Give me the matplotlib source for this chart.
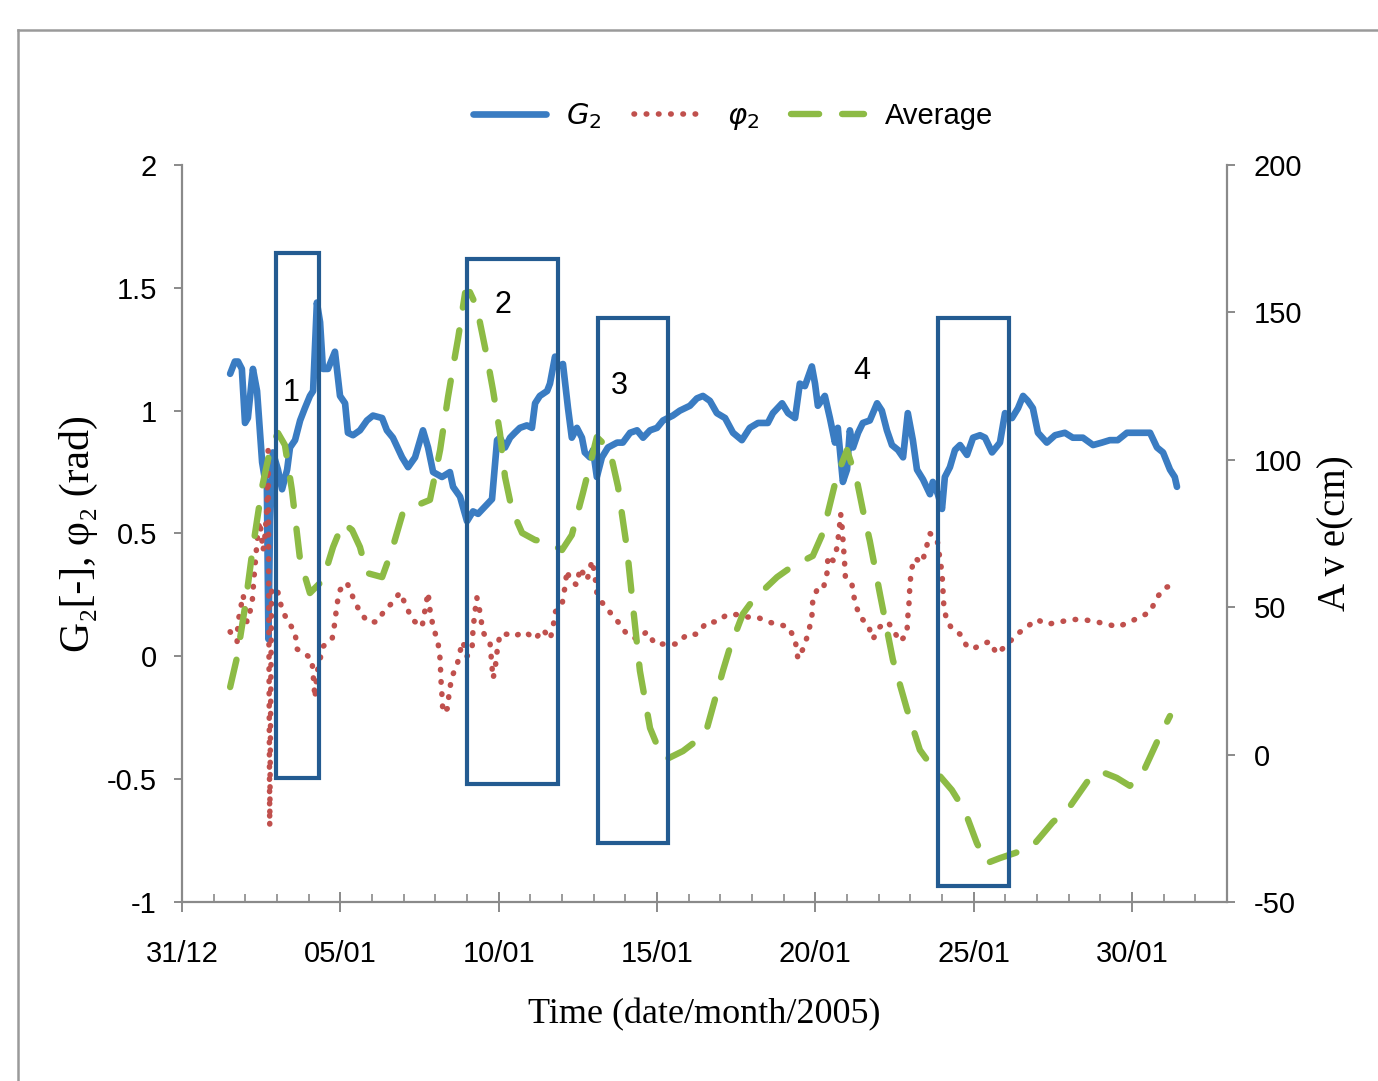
import numpy as np
import matplotlib
matplotlib.use("Agg")
import matplotlib.pyplot as plt
from matplotlib.patches import Rectangle
from matplotlib.lines import Line2D

# -------------------------------------------------
# Data (x = days after 31/12/2004)
# -------------------------------------------------

g2_day = [1.52, 1.67, 1.77, 1.89, 1.99, 2.08, 2.24, 2.37, 2.53, 2.62, 2.68, 2.73, 2.78, 2.87,
          3.03, 3.16, 3.32, 3.41, 3.57, 3.73, 3.88, 4.04, 4.14, 4.26, 4.36, 4.45, 4.61, 4.83,
          4.99, 5.15, 5.24, 5.40, 5.62, 5.84, 6.03, 6.32, 6.47, 6.66, 6.95, 7.14, 7.36, 7.61,
          7.77, 7.93, 8.21, 8.46, 8.56, 8.78, 9.00, 9.19, 9.35, 9.57, 9.79, 9.95, 10.04, 10.20,
          10.36, 10.51, 10.67, 10.89, 11.05, 11.15, 11.30, 11.53, 11.62, 11.78, 11.87, 12.03,
          12.19, 12.31, 12.47, 12.63, 12.72, 12.88, 12.98, 13.10, 13.26, 13.45, 13.74, 13.92,
          14.15, 14.37, 14.56, 14.78, 15.00, 15.19, 15.50, 15.72, 16.04, 16.26, 16.45, 16.67,
          16.89, 17.15, 17.40, 17.68, 17.93, 18.19, 18.50, 18.66, 18.95, 19.14, 19.36, 19.51,
          19.67, 19.89, 19.99, 20.08, 20.30, 20.46, 20.62, 20.71, 20.87, 21.00, 21.09, 21.19,
          21.35, 21.50, 21.72, 21.95, 22.10, 22.26, 22.42, 22.61, 22.77, 22.92, 23.08, 23.21,
          23.40, 23.62, 23.71, 23.87, 24.00, 24.09, 24.25, 24.41, 24.57, 24.79, 24.98, 25.20,
          25.36, 25.58, 25.83, 25.99, 26.21, 26.40, 26.56, 26.71, 26.87, 27.03, 27.31, 27.57,
          27.88, 28.13, 28.45, 28.77, 29.05, 29.30, 29.55, 29.84, 30.15, 30.34, 30.57, 30.79,
          30.98, 31.20, 31.35, 31.42]
g2_val = [1.15, 1.20, 1.20, 1.17, 0.95, 0.97, 1.17, 1.08, 0.79, 0.72, 0.70, 0.07, 0.55, 0.83,
          0.76, 0.68, 0.76, 0.85, 0.88, 0.96, 1.01, 1.06, 1.08, 1.44, 1.36, 1.17, 1.17, 1.24,
          1.06, 1.03, 0.91, 0.90, 0.92, 0.96, 0.98, 0.97, 0.92, 0.89, 0.81, 0.77, 0.81, 0.92,
          0.85, 0.75, 0.73, 0.75, 0.69, 0.65, 0.55, 0.59, 0.58, 0.61, 0.64, 0.88, 0.89, 0.85,
          0.89, 0.91, 0.93, 0.94, 0.93, 1.03, 1.06, 1.08, 1.11, 1.22, 1.18, 1.19,
          1.01, 0.89, 0.93, 0.89, 0.83, 0.81, 0.84, 0.73, 0.81, 0.85, 0.87, 0.87,
          0.91, 0.92, 0.89, 0.92, 0.93, 0.96, 0.98, 1.00, 1.02, 1.05, 1.06, 1.04,
          0.99, 0.97, 0.91, 0.88, 0.93, 0.95, 0.95, 0.99, 1.03, 0.99, 0.97, 1.11,
          1.10, 1.18, 1.11, 1.02, 1.06, 0.97, 0.87, 0.93, 0.71, 0.76, 0.92, 0.85,
          0.91, 0.95, 0.96, 1.03, 1.00, 0.92, 0.86, 0.84, 0.81, 0.99, 0.88, 0.76,
          0.72, 0.66, 0.71, 0.66, 0.60, 0.73, 0.77, 0.84, 0.86, 0.82, 0.89, 0.90,
          0.89, 0.83, 0.87, 0.99, 0.97, 1.01, 1.06, 1.04, 1.01, 0.91, 0.87, 0.90,
          0.91, 0.89, 0.89, 0.86, 0.87, 0.88, 0.88, 0.91, 0.91, 0.91, 0.91, 0.85,
          0.83, 0.76, 0.73, 0.69]

phi_day = [1.52, 1.74, 1.77, 1.93, 2.05, 2.21, 2.28, 2.40, 2.46, 2.56, 2.62, 2.68, 2.72, 2.77,
           2.83, 3.03, 3.16, 3.35, 3.57, 3.63, 3.88, 4.10, 4.20, 4.26, 4.45, 4.74, 4.83, 4.89,
           4.99, 5.21, 5.40, 5.62, 5.87, 6.16, 6.41, 6.66, 6.88, 7.10, 7.26, 7.58, 7.77, 7.83,
           7.93, 8.08, 8.15, 8.18, 8.21, 8.24, 8.40, 8.43, 8.53, 8.68, 8.78, 8.87, 9.00, 9.16,
           9.19, 9.25, 9.31, 9.41, 9.50, 9.73, 9.82, 9.88, 9.95, 10.04, 10.26, 10.45, 10.83,
           11.15, 11.40, 11.62, 11.71, 11.78, 12.00, 12.09, 12.16, 12.25, 12.47, 12.57, 12.79,
           12.95, 13.04, 13.10, 13.26, 13.51, 13.77, 14.05, 14.37, 14.68, 14.94, 15.25, 15.63,
           15.95, 16.26, 16.58, 16.89, 17.21, 17.52, 17.84, 18.16, 18.50, 18.85, 19.14, 19.36,
           19.45, 19.61, 19.77, 19.89, 19.92, 20.05, 20.24, 20.37, 20.40, 20.56, 20.68, 20.75,
           20.80, 20.85, 20.88, 20.92, 20.95, 21.16, 21.25, 21.41, 21.66, 21.82, 22.04, 22.29,
           22.45, 22.67, 22.89, 22.92, 22.96, 22.99, 23.05, 23.14, 23.37, 23.52, 23.62, 23.84,
           24.00, 24.03, 24.06, 24.16, 24.34, 24.57, 24.79, 24.98, 25.26, 25.51, 25.73, 25.99,
           26.37, 26.68, 27.00, 27.31, 27.72, 28.10, 28.45, 28.89, 29.24, 29.55, 29.93, 30.25,
           30.57, 30.79, 31.04, 31.35]
phi_val = [0.10, 0.06, 0.14, 0.25, 0.14, 0.21, 0.33, 0.51, 0.55, 0.43, 0.49, 0.60, 0.84, -0.69,
           0.28, 0.26, 0.19, 0.14, 0.10, 0.03, 0.01, -0.01, -0.17, -0.07, 0.04, 0.07, 0.14, 0.21,
           0.27, 0.30, 0.24, 0.18, 0.14, 0.14, 0.19, 0.22, 0.26, 0.20, 0.15, 0.12, 0.26, 0.19,
           0.12, 0.06, -0.01, -0.10, -0.16, -0.23, -0.21, -0.15, -0.08, -0.04, 0.02, 0.06, 0.00, 0.03,
           0.11, 0.18, 0.24, 0.18, 0.10, 0.05, -0.09, -0.06, 0.02, 0.09, 0.09, 0.08, 0.10,
           0.07, 0.11, 0.07, 0.11, 0.18, 0.21, 0.28, 0.35, 0.31, 0.29, 0.36, 0.31,
           0.39, 0.33, 0.26, 0.22, 0.18, 0.14, 0.09, 0.07, 0.10, 0.05, 0.05, 0.05,
           0.09, 0.09, 0.14, 0.14, 0.17, 0.17, 0.16, 0.16, 0.14, 0.13, 0.12, 0.07,
           -0.01, 0.03, 0.09, 0.16, 0.23, 0.27, 0.27, 0.34, 0.41, 0.39, 0.44, 0.51,
           0.58, 0.52, 0.46, 0.39, 0.32, 0.29, 0.22, 0.16, 0.13, 0.07, 0.12, 0.14,
           0.11, 0.06, 0.09, 0.16, 0.22, 0.30, 0.36, 0.40, 0.38, 0.45, 0.50, 0.48,
           0.34, 0.27, 0.20, 0.14, 0.11, 0.09, 0.04, 0.03, 0.05, 0.06, 0.01, 0.04,
           0.09, 0.12, 0.15, 0.13, 0.14, 0.15, 0.15, 0.14, 0.13, 0.12, 0.14, 0.16,
           0.18, 0.24, 0.28, 0.29]

ave_day = [1.52, 1.74, 1.99, 2.24, 2.53, 2.78, 3.03, 3.25, 3.47, 3.73, 4.04, 4.45, 4.77, 5.08,
           5.37, 5.62, 5.84, 6.32, 6.63, 6.98, 7.29, 7.83, 8.15, 8.40, 8.56, 8.72, 8.94, 9.09,
           9.31, 9.63, 9.82, 10.04, 10.20, 10.42, 10.74, 11.15, 11.53, 12.00, 12.31, 12.66,
           12.88, 13.10, 13.36, 13.58, 13.77, 13.92, 14.05, 14.24, 14.46, 14.78, 15.09, 15.31,
           15.82, 16.20, 16.58, 17.08, 17.30, 17.71, 18.03, 18.79, 19.29, 19.92, 20.24, 20.68,
           21.00, 21.31, 21.50, 21.72, 22.04, 22.45, 22.89, 23.30, 23.71, 24.31, 24.72, 25.10,
           25.42, 25.83, 26.30, 26.84, 27.50, 27.98, 28.58, 28.99, 29.52, 29.93, 30.34, 30.79,
           31.20]
ave_val = [22.9, 33.1, 50.1, 70.4, 90.8, 103.3, 109.1, 105.0, 89.8, 66.0, 54.8, 59.2, 70.4, 78.6,
           76.2, 70.4, 61.6, 60.2, 69.4, 82.3, 84.0, 86.4, 103.3, 121.3, 131.5, 141.3, 156.6, 156.9,
           151.8, 134.9, 123.7, 109.1, 94.2, 83.0, 75.2, 72.8, 72.1, 69.4, 74.5, 88.7,
           98.2, 107.7, 105.0, 99.9, 90.8, 79.6, 70.1, 50.4, 28.4, 9.0, 0.9, -1.5,
           1.2, 4.3, 9.0, 28.4, 36.2, 47.7, 52.4, 60.2, 64.0, 67.4, 75.2, 94.5,
           103.3, 93.1, 83.0, 72.5, 54.5, 32.1, 15.5, 1.6, -4.5, -12.0, -19.1, -30.0,
           -36.8, -35.1, -33.4, -31.3, -22.9, -18.5, -9.3, -5.6, -7.9, -10.6, -6.2, 4.3,
           13.1]

# event boxes (start day, end day, low, high on left axis) and their numbers
box_x0 = [2.97, 9.00, 13.14, 23.87]
box_x1 = [4.33, 11.87, 15.35, 26.11]
box_y0 = [-0.495, -0.519, -0.759, -0.934]
box_y1 = [1.642, 1.617, 1.377, 1.377]
box_lbl = ['1', '2', '3', '4']
lbl_x = [3.44, 10.13, 13.80, 21.47]
lbl_y = [1.07, 1.43, 1.10, 1.16]

xtick_pos = [0, 5, 10, 15, 20, 25, 30]
xtick_lbl = ['31/12', '05/01', '10/01', '15/01', '20/01', '25/01', '30/01']

# -------------------------------------------------
# Plot
# -------------------------------------------------

sans = ['Liberation Sans', 'DejaVu Sans']
serif = ['Liberation Serif', 'DejaVu Serif']
plt.rcParams['font.family'] = sans
plt.rcParams['axes.unicode_minus'] = False

c_blue = '#3A7CC2'
c_red = '#C0504D'
c_green = '#8DBB45'
c_box = '#235B91'
c_axis = '#8A8A8A'

fig = plt.figure(figsize=(13.78, 10.81), dpi=100)
ax = fig.add_axes([182/1378, 1 - 902/1081, (1227-182)/1378, (902-165)/1081])
ax2 = ax.twinx()

l1, = ax.plot(g2_day, g2_val, color=c_blue, lw=4.8, solid_joinstyle='round',
              solid_capstyle='round')
l2, = ax.plot(phi_day, phi_val, color=c_red, lw=4.0, linestyle=(0, (0.1, 2.1)),
              dash_capstyle='round')
l3, = ax2.plot(ave_day, ave_val, color=c_green, lw=4.6, linestyle=(0, (4.4, 3.6)),
               dash_capstyle='round')

for i in range(len(box_lbl)):
    ax2.add_patch(Rectangle((box_x0[i], box_y0[i]), box_x1[i] - box_x0[i],
                            box_y1[i] - box_y0[i], transform=ax.transData,
                            fill=False, ec=c_box, lw=3, zorder=5))
    ax2.text(lbl_x[i], lbl_y[i], box_lbl[i], transform=ax.transData, fontsize=22,
             ha='center', va='center', zorder=6)

ax.set_xlim(0, 33)
ax.set_ylim(-1, 2)
ax2.set_ylim(-50, 200)

ax.set_xticks(xtick_pos)
ax.set_xticklabels(xtick_lbl)
ax.set_xticks(np.arange(0, 33, 1), minor=True)
ax.set_yticks([-1, -0.5, 0, 0.5, 1, 1.5, 2])
ax.set_yticklabels(['-1', '-0.5', '0', '0.5', '1', '1.5', '2'])
ax2.set_yticks([-50, 0, 50, 100, 150, 200])

for a in (ax, ax2):
    a.spines['top'].set_visible(False)
    for s in a.spines.values():
        s.set_color(c_axis)
        s.set_linewidth(1.6)
ax.spines['right'].set_visible(False)
ax2.spines['left'].set_visible(False)
ax2.spines['bottom'].set_visible(False)

ax.tick_params(axis='x', which='major', direction='inout', length=14, width=1.4,
               color=c_axis, labelsize=21, pad=20)
ax.tick_params(axis='x', which='minor', direction='in', length=6, width=1.2, color=c_axis)
ax.tick_params(axis='y', direction='out', length=6, width=1.4, color=c_axis,
               labelsize=21, pad=12)
ax2.tick_params(axis='y', direction='out', length=6, width=1.4, color=c_axis,
                labelsize=21, pad=13)

ax.set_xlabel('Time (date/month/2005)', fontsize=26, family=serif)
ax.xaxis.set_label_coords(0.5, -0.130)
ax.set_ylabel('G₂[-], φ₂ (rad)', fontsize=30, family=serif)
ax.yaxis.set_label_coords(-0.080, 0.5)
ax2.set_ylabel('A v e(cm)', fontsize=28, family=serif, rotation=90)
ax2.yaxis.set_label_coords(1.087, 0.5)

leg = fig.legend([l1, l2, l3], ['$G_2$', r'$\varphi_2$', 'Average'], loc='center',
                 bbox_to_anchor=(733/1378, 1 - 117/1081), ncol=3, frameon=False,
                 fontsize=21, handlelength=2.5, handletextpad=0.7, columnspacing=1.1)

# outer chart border
fig.add_artist(Line2D([18/1378, 1.0], [1 - 30/1081, 1 - 30/1081], color='#9A9A9A', lw=1.8))
fig.add_artist(Line2D([18/1378, 18/1378], [0.0, 1 - 30/1081], color='#9A9A9A', lw=1.8))

fig.savefig('out.png', dpi=100)
